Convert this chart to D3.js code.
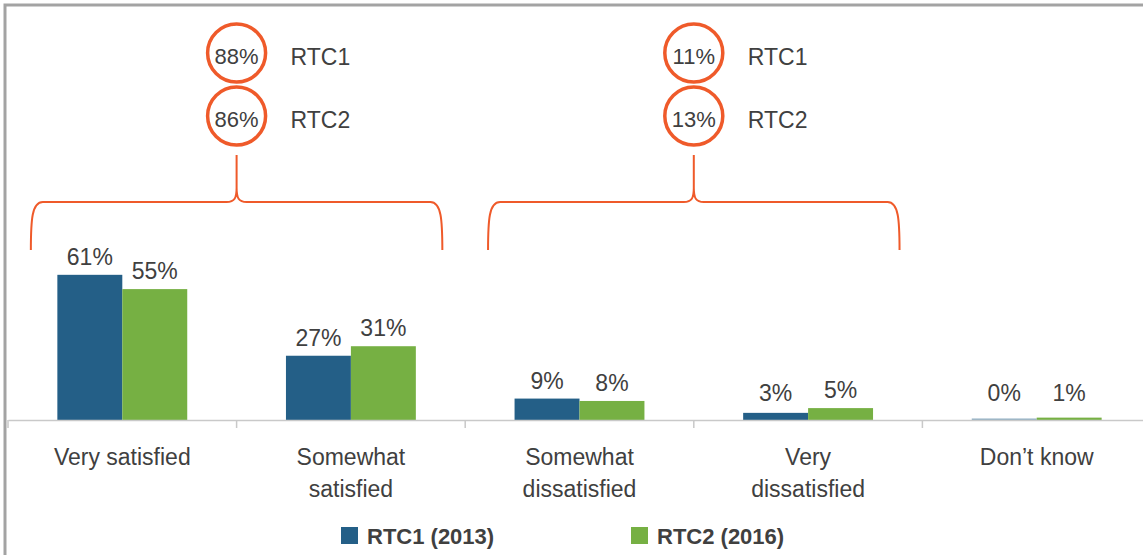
<!DOCTYPE html>
<html>
<head>
<meta charset="utf-8">
<script src="https://cdn.jsdelivr.net/npm/d3@7"></script>
<style>
  body { margin: 0; background: #fff; }
  svg { display: block; font-family: "Liberation Sans", Arial, sans-serif; }
  .val, .cat, .rtc { fill: #404040; font-size: 23px; }
  .legend-text { fill: #404040; font-size: 22px; font-weight: bold; }
</style>
</head>
<body>
<div id="chart"></div>
<script>
// Chart data
const categories = ['Very satisfied', 'Somewhat satisfied', 'Somewhat dissatisfied', 'Very dissatisfied', 'Don\u2019t know'];
const seriesNames = ['RTC1 (2013)', 'RTC2 (2016)'];
const rtc1 = [61, 27, 9, 3, 0];
const rtc2 = [55, 31, 8, 5, 1];

// Summary groups (bracket + circled totals)
const groupCats = [['Very satisfied', 'Somewhat satisfied'], ['Somewhat dissatisfied', 'Very dissatisfied']];
const groupRtc1 = [88, 11];
const groupRtc2 = [86, 13];
const groupNames = ['RTC1', 'RTC2'];

const colors = ['#245f87', '#76b043'];
const orange = '#ef5a2a';

const W = 1143, H = 555;
const svg = d3.select('#chart').append('svg')
    .attr('width', W)
    .attr('height', H);

// Frame (top and left)
svg.append('path')
    .attr('d', `M5,555 L5,5 L1143,5`)
    .attr('fill', 'none')
    .attr('stroke', '#a3a3a3')
    .attr('stroke-width', 3);

// Scales
const x0 = d3.scaleBand()
    .domain(categories)
    .range([8, 1151])
    .paddingInner(0)
    .paddingOuter(0);

const x1 = d3.scaleBand()
    .domain(seriesNames)
    .range([0, x0.bandwidth()])
    .paddingInner(0)
    .paddingOuter(0.76);

const y = d3.scaleLinear()
    .domain([0, 100])
    .range([420, 182]);

const rows = categories.map((c, i) => ({ cat: c, values: [rtc1[i], rtc2[i]] }));

// Bars
const groups = svg.selectAll('.grp')
    .data(rows)
    .enter()
    .append('g')
    .attr('class', 'grp')
    .attr('transform', d => `translate(${x0(d.cat)},0)`);

groups.selectAll('rect')
    .data(d => d.values.map((v, j) => ({ v, s: seriesNames[j], j })))
    .enter()
    .append('rect')
    .attr('x', d => x1(d.s))
    .attr('width', x1.bandwidth())
    .attr('y', d => y(d.v) - (d.v === 0 ? 1.5 : 0))
    .attr('height', d => Math.max(1.5, y(0) - y(d.v)))
    .attr('fill', d => colors[d.j])
    .attr('opacity', d => d.v === 0 ? 0.5 : 1);

groups.selectAll('.val')
    .data(d => d.values.map((v, j) => ({ v, s: seriesNames[j], j })))
    .enter()
    .append('text')
    .attr('class', 'val')
    .attr('x', d => x1(d.s) + x1.bandwidth() / 2)
    .attr('y', d => Math.min(y(d.v) - 10, y(0) - 19))
    .attr('text-anchor', 'middle')
    .text(d => d.v + '%');

// X axis
const xAxis = svg.append('g')
    .attr('transform', `translate(0,${y(0)})`)
    .call(d3.axisBottom(x0).tickSize(0).tickFormat(''));
xAxis.select('.domain').attr('stroke', '#c9c9c9').attr('stroke-width', 1.5);
xAxis.selectAll('.tick').remove();

// Boundary ticks between categories
const bounds = categories.map(c => x0(c));
svg.selectAll('.bt')
    .data(bounds)
    .enter()
    .append('line')
    .attr('x1', d => d).attr('x2', d => d)
    .attr('y1', y(0)).attr('y2', y(0) + 8)
    .attr('stroke', '#c9c9c9')
    .attr('stroke-width', 1.5);

// Category labels (wrapped)
const maxW = 158;
svg.selectAll('.cat')
    .data(categories)
    .enter()
    .append('text')
    .attr('class', 'cat')
    .attr('text-anchor', 'middle')
    .attr('x', d => x0(d) + x0.bandwidth() / 2)
    .attr('y', 465)
    .each(function (d) {
        const el = d3.select(this);
        const words = d.split(' ');
        let line = [];
        let tspan = el.append('tspan').attr('x', el.attr('x')).attr('dy', 0);
        words.forEach(w => {
            line.push(w);
            tspan.text(line.join(' '));
            if (tspan.node().getComputedTextLength() > maxW && line.length > 1) {
                line.pop();
                tspan.text(line.join(' '));
                line = [w];
                tspan = el.append('tspan').attr('x', el.attr('x')).attr('dy', 32).text(w);
            }
        });
    });

// Brackets + circled totals
const yB = 250, yT = 202, yTip = 155;
groupCats.forEach((cats, gi) => {
    const inset = x0.bandwidth() * 0.1;
    const L = x0(cats[0]) + inset;
    const R = x0(cats[cats.length - 1]) + x0.bandwidth() - inset;
    const m = (L + R) / 2;

    const p = d3.path();
    p.moveTo(L, yB);
    p.bezierCurveTo(L, yB - 30, L + 1, yT, L + 12, yT);
    p.lineTo(m - 10, yT);
    p.bezierCurveTo(m - 2, yT, m, yT - 4, m, yT - 14);
    p.lineTo(m, yTip);
    p.moveTo(m, yT - 14);
    p.bezierCurveTo(m, yT - 4, m + 2, yT, m + 10, yT);
    p.lineTo(R - 12, yT);
    p.bezierCurveTo(R - 1, yT, R, yB - 30, R, yB);

    svg.append('path')
        .attr('d', p.toString())
        .attr('fill', 'none')
        .attr('stroke', orange)
        .attr('stroke-width', 2);

    const totals = [groupRtc1[gi], groupRtc2[gi]];
    const cys = [53, 116];
    totals.forEach((t, k) => {
        svg.append('circle')
            .attr('cx', m)
            .attr('cy', cys[k])
            .attr('r', 29)
            .attr('fill', 'none')
            .attr('stroke', orange)
            .attr('stroke-width', 3.5);
        svg.append('text')
            .attr('class', 'val')
            .attr('x', m)
            .attr('y', cys[k] + 11)
            .attr('text-anchor', 'middle')
            .style('font-size', '22px')
            .text(t + '%');
        svg.append('text')
            .attr('class', 'rtc')
            .attr('x', m + 54)
            .attr('y', cys[k] + 12)
            .text(groupNames[k]);
    });
});

// Legend
const legendX = [341, 631];
seriesNames.forEach((s, i) => {
    svg.append('rect')
        .attr('x', legendX[i])
        .attr('y', 527)
        .attr('width', 17)
        .attr('height', 17)
        .attr('fill', colors[i]);
    svg.append('text')
        .attr('class', 'legend-text')
        .attr('x', legendX[i] + 26)
        .attr('y', 544)
        .text(s);
});
</script>
</body>
</html>
